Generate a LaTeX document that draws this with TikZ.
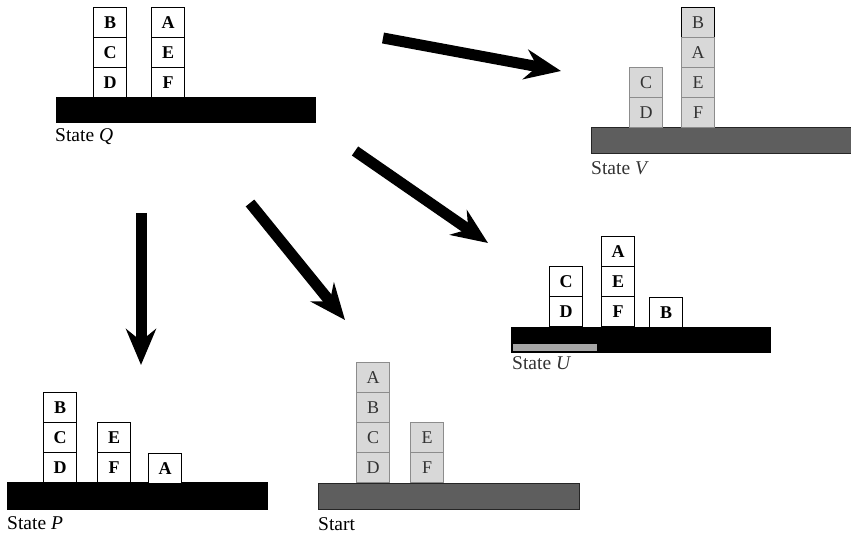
\documentclass[tikz,border=0pt]{standalone}
\usepackage{fontspec}
\setmainfont{Liberation Serif}
\usetikzlibrary{arrows.meta}
\definecolor{gfill}{HTML}{D8D8D8}
\definecolor{gedge}{HTML}{8C8C8C}
\definecolor{gtable}{HTML}{5E5E5E}
\definecolor{gtext}{HTML}{333333}
\begin{document}
\begin{tikzpicture}[x=1pt,y=-1pt,
  blk/.style={draw=black,line width=1.1pt,fill=white,minimum width=33pt,minimum height=30pt,inner sep=0pt,anchor=north west,font=\fontsize{18}{18}\selectfont\bfseries},
  gblk/.style={draw=gedge,line width=1.1pt,fill=gfill,minimum width=33pt,minimum height=30pt,inner sep=0pt,anchor=north west,text=gtext,font=\fontsize{18}{18}\selectfont},
  btable/.style={fill=black},
  gtab/.style={fill=gtable,draw=black!85,line width=1pt},
  lbl/.style={anchor=base west,inner sep=0pt,font=\fontsize{19.5}{19.5}\selectfont},
  glbl/.style={lbl,text=gtext},
  bigarrow/.style={line width=11pt,-{Stealth[length=36pt,width=30pt,inset=12pt]}}
]
\useasboundingbox (0,0) rectangle (851,537);

% ---------- State Q ----------
\fill[btable] (56,97) rectangle (316,123);
\node[blk] (qB) at (93,7) {B};
\node[blk] (qC) at (93,37) {C};
\node[blk] (qD) at (93,67) {D};
\node[blk] (qA) at (151,7) {A};
\node[blk] (qE) at (151,37) {E};
\node[blk] (qF) at (151,67) {F};
\node[lbl] (qL) at (55,142) {State \textit{Q}};

% ---------- State V ----------
\filldraw[gtab] (591,128) rectangle (852,154);
\node[gblk] (vC) at (629,67) {C};
\node[gblk] (vD) at (629,97) {D};
\node[gblk,draw=black] (vB) at (681,7) {B};
\node[gblk] (vA) at (681,37) {A};
\node[gblk] (vE) at (681,67) {E};
\node[gblk] (vF) at (681,97) {F};
\node[glbl] (vL) at (591,175) {State \textit{V}};

% ---------- State U ----------
\fill[btable] (511,327) rectangle (771,353);
\fill[gray!70] (513,344) rectangle (597,351);
\node[blk] (uC) at (549,266) {C};
\node[blk] (uD) at (549,296) {D};
\node[blk] (uA) at (601,236) {A};
\node[blk] (uE) at (601,266) {E};
\node[blk] (uF) at (601,296) {F};
\node[blk] (uB) at (649,297) {B};
\node[glbl] (uL) at (512,369) {State \textit{U}};

% ---------- State P ----------
\fill[btable] (7,482) rectangle (268,510);
\node[blk] (pB) at (43,392) {B};
\node[blk] (pC) at (43,422) {C};
\node[blk] (pD) at (43,452) {D};
\node[blk] (pE) at (97,422) {E};
\node[blk] (pF) at (97,452) {F};
\node[blk] (pA) at (148,453) {A};
\node[lbl] (pL) at (7,529) {State \textit{P}};

% ---------- Start ----------
\filldraw[gtab] (318,483) rectangle (579,509);
\node[gblk] (sA) at (356,362) {A};
\node[gblk] (sB) at (356,392) {B};
\node[gblk] (sC) at (356,422) {C};
\node[gblk] (sD) at (356,452) {D};
\node[gblk] (sE) at (410,422) {E};
\node[gblk] (sF) at (410,452) {F};
\node[lbl] (sL) at (318,530) {Start};

% ---------- Arrows ----------
\coordinate (a1s) at (383,38);  \coordinate (a1e) at (561,71);
\coordinate (a2s) at (355,151); \coordinate (a2e) at (488,243);
\coordinate (a3s) at (250,203); \coordinate (a3e) at (345,320);
\coordinate (a4s) at (141,213); \coordinate (a4e) at (141,365);
\draw[bigarrow] (a1s) -- (a1e);
\draw[bigarrow] (a2s) -- (a2e);
\draw[bigarrow] (a3s) -- (a3e);
\draw[bigarrow] (a4s) -- (a4e);
\end{tikzpicture}
\end{document}
